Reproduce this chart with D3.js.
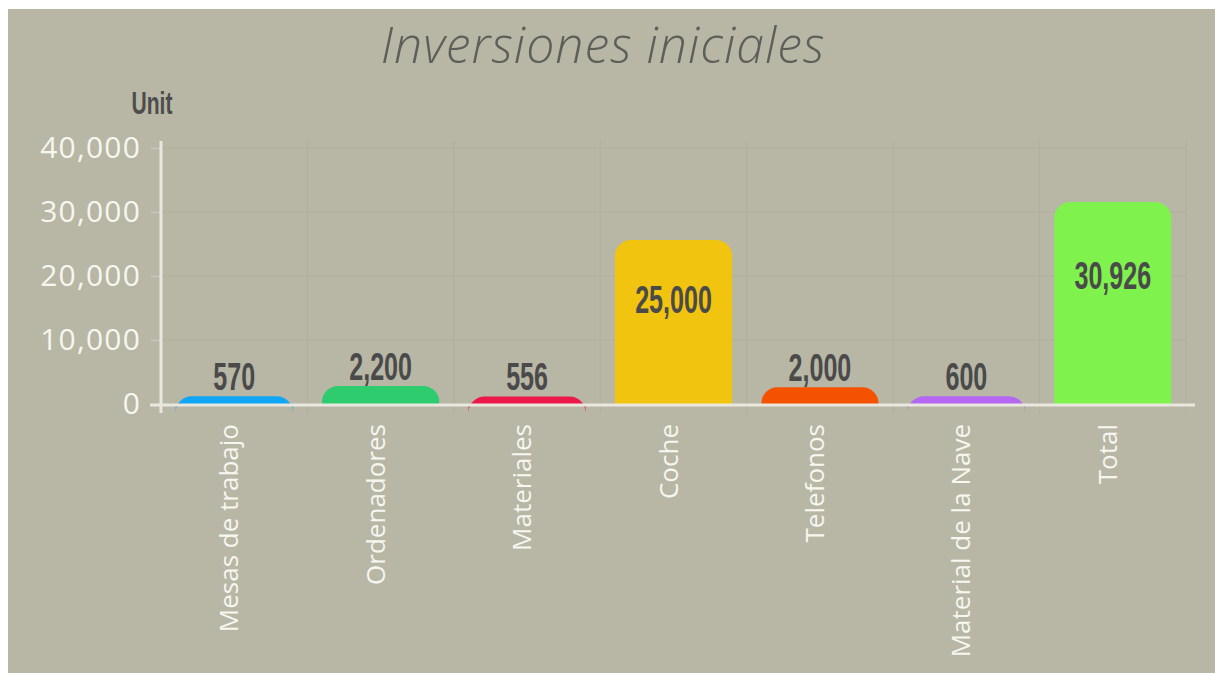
<!DOCTYPE html>
<html>
<head>
<meta charset="utf-8">
<script src="https://cdn.jsdelivr.net/npm/d3@7"></script>
<style>
  html, body { margin: 0; padding: 0; background: #ffffff; }
  svg { display: block; }
</style>
</head>
<body>
<svg id="chart" width="1215" height="673"></svg>
<script>
const title = "Inversiones iniciales";
const unitLabel = "Unit";
const categories = ["Mesas de trabajo", "Ordenadores", "Materiales", "Coche", "Telefonos", "Material de la Nave", "Total"];
const values = [570, 2200, 556, 25000, 2000, 600, 30926];
const colors = ["#0fa6f5", "#2ecc6f", "#ea1949", "#f1c40f", "#f55200", "#b467f3", "#7ff24e"];
const yTicks = [0, 10000, 20000, 30000, 40000];

const svg = d3.select("#chart");
const W = 1215, H = 673;

svg.append("rect").attr("x", 8).attr("y", 9).attr("width", W - 8).attr("height", H - 9).attr("fill", "#b8b7a5");

const x = d3.scaleBand().domain(categories).range([161, 1186]).paddingInner(0.2).paddingOuter(0.1);
const y = d3.scaleLinear().domain([0, 40000]).range([404, 148]);
const fmt = d3.format(",");
const base = y(0);
const lift = 4;
const radius = 16;

// title
svg.append("text")
  .attr("x", 603).attr("y", 63)
  .attr("text-anchor", "middle")
  .attr("font-family", "'Open Sans', sans-serif")
  .attr("font-style", "italic").attr("font-weight", 300)
  .attr("font-size", 50).attr("letter-spacing", 1)
  .attr("fill", "#5e5e5a")
  .text(title);

// unit
svg.append("text")
  .attr("transform", "translate(152,114) scale(0.68,1)")
  .attr("text-anchor", "middle")
  .attr("font-family", "'Liberation Sans Narrow', sans-serif")
  .attr("font-weight", 700).attr("font-size", 31)
  .attr("fill", "#4d4d4d")
  .text(unitLabel);

// horizontal gridlines
svg.append("g").selectAll("line").data(yTicks.filter(d => d > 0)).join("line")
  .attr("x1", 161).attr("x2", 1186)
  .attr("y1", d => y(d)).attr("y2", d => y(d))
  .attr("stroke", "#b0af9c").attr("stroke-width", 1);

// vertical gridlines at band boundaries
const bounds = categories.map(c => x(c) - x.step() * x.paddingInner() / 2).slice(1).concat([x.range()[1]]);
svg.append("g").selectAll("line").data(bounds).join("line")
  .attr("x1", d => d).attr("x2", d => d)
  .attr("y1", 141).attr("y2", 414)
  .attr("stroke", "#b0af9c").attr("stroke-width", 1);

// y axis
const yAxis = d3.axisLeft(y).tickValues(yTicks).tickFormat(fmt).tickSize(10).tickPadding(10);
const ga = svg.append("g").attr("transform", "translate(161,0)").call(yAxis);
ga.select(".domain").remove();
ga.selectAll(".tick line").attr("stroke", "#c9c7b8").attr("stroke-width", 1.5);
ga.selectAll(".tick text")
  .attr("font-family", "'Open Sans', sans-serif").attr("font-size", 30)
  .attr("letter-spacing", 1.2)
  .attr("fill", "#f7f6f0");
svg.append("line").attr("x1", 161).attr("x2", 161).attr("y1", 141).attr("y2", 413)
  .attr("stroke", "#e9e7de").attr("stroke-width", 3);

// bars
function barPath(d, i) {
  const x0 = x(categories[i]), x1 = x0 + x.bandwidth();
  const top = y(d) - lift;
  const r = radius;
  return `M${x0},${base} L${x0},${top + r} A${r},${r} 0 0 1 ${x0 + r},${top} L${x1 - r},${top} A${r},${r} 0 0 1 ${x1},${top + r} L${x1},${base} Z`;
}
svg.append("g").selectAll("path").data(values).join("path")
  .attr("d", barPath)
  .attr("fill", (d, i) => colors[i]);

// x axis line
svg.append("line").attr("x1", 150).attr("x2", 1195).attr("y1", base + 1).attr("y2", base + 1)
  .attr("stroke", "#e9e7de").attr("stroke-width", 3);

// value labels
svg.append("g").selectAll("text").data(values).join("text")
  .attr("transform", (d, i) => {
    const cx = x(categories[i]) + x.bandwidth() / 2;
    const top = y(d) - lift;
    const h = base - top;
    const cy = h > 60 ? top + 0.37 * h : top - 18;
    return `translate(${cx},${cy + 12}) scale(0.66,1)`;
  })
  .attr("text-anchor", "middle")
  .attr("font-family", "'Liberation Sans Narrow', sans-serif")
  .attr("font-weight", 700).attr("font-size", 38)
  .attr("fill", "#4a4a4a")
  .text(d => fmt(d));

// x labels
svg.append("g").selectAll("text").data(categories).join("text")
  .attr("transform", d => `translate(${x(d) + x.bandwidth() / 2 - 5},424) rotate(-90)`)
  .attr("text-anchor", "end")
  .attr("dy", "0.35em")
  .attr("font-family", "'Open Sans', sans-serif").attr("font-size", 26)
  .attr("fill", "#f7f6f0")
  .text(d => d);
</script>
</body>
</html>
